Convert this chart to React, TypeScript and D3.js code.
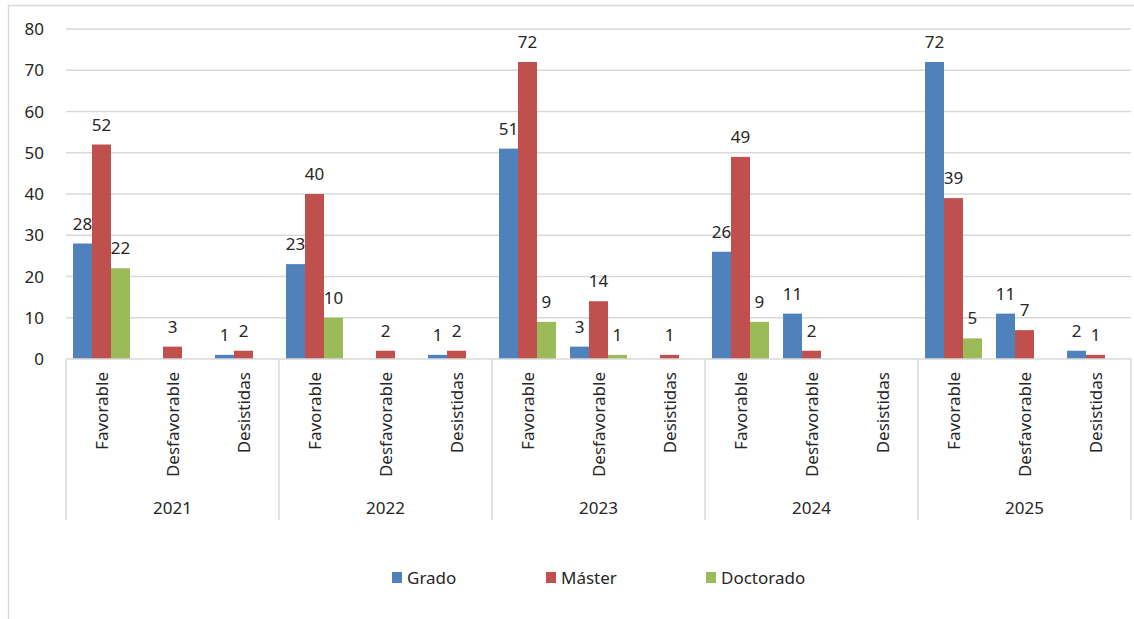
import React from "react";
import * as d3 from "d3";

const years = ["2021", "2022", "2023", "2024", "2025"];
const outcomes = ["Favorable", "Desfavorable", "Desistidas"];
const seriesNames = ["Grado", "Máster", "Doctorado"];
const seriesColors = ["#4f81bd", "#c0504d", "#9bbb59"];

// values per year, in order Favorable, Desfavorable, Desistidas (null = no bar)
const grado = [28, null, 1, 23, null, 1, 51, 3, null, 26, 11, null, 72, 11, 2];
const master = [52, 3, 2, 40, 2, 2, 72, 14, 1, 49, 2, null, 39, 7, 1];
const doctorado = [22, null, null, 10, null, null, 9, 1, null, 9, null, null, 5, null, null];

const yTicks = [0, 10, 20, 30, 40, 50, 60, 70, 80];

const W = 1134;
const H = 619;
const FONT = "'Noto Sans', sans-serif";
const TEXT = "#262626";
const GRID = "#d9d9d9";
const FS = 17;

export default function App() {
  const left = 66;
  const right = 1131;
  const top = 29;
  const bottom = 359;

  const cats = years.flatMap((y) => outcomes.map((o) => `${y}|${o}`));
  const x = d3.scaleBand<string>().domain(cats).range([left, right]).padding(0);
  const xg = d3.scaleBand<string>().domain(years).range([left, right]).padding(0);
  const xs = d3
    .scaleBand<string>()
    .domain(seriesNames)
    .range([0, x.bandwidth()])
    .paddingInner(0)
    .paddingOuter(0.37);
  const y = d3.scaleLinear().domain([0, 80]).range([bottom, top]);

  const allSeries = [grado, master, doctorado];

  return (
    <svg
      width={W}
      height={H}
      style={{ position: "absolute", left: 0, top: 0, background: "#fff" }}
      fontFamily={FONT}
    >
      {/* outer border */}
      <line x1={8.5} x2={8.5} y1={5} y2={H} stroke={GRID} strokeWidth={1.5} />
      <line x1={8} x2={W} y1={5.5} y2={5.5} stroke={GRID} strokeWidth={1.5} />

      {/* gridlines */}
      {yTicks.map((t) => (
        <g key={t}>
          {t > 0 && (
            <line x1={left} x2={right} y1={y(t)} y2={y(t)} stroke={GRID} strokeWidth={1.5} />
          )}
          <text x={44} y={y(t)} dy="0.36em" textAnchor="end" fontSize={FS} fill={TEXT}>
            {t}
          </text>
        </g>
      ))}

      {/* bars */}
      {allSeries.map((vals, si) =>
        vals.map((v, ci) =>
          v == null ? null : (
            <rect
              key={`${si}-${ci}`}
              x={(x(cats[ci]) as number) + (xs(seriesNames[si]) as number)}
              y={y(v)}
              width={xs.bandwidth()}
              height={bottom - y(v)}
              fill={seriesColors[si]}
            />
          )
        )
      )}

      {/* value labels */}
      {allSeries.map((vals, si) =>
        vals.map((v, ci) =>
          v == null ? null : (
            <text
              key={`l${si}-${ci}`}
              x={(x(cats[ci]) as number) + (xs(seriesNames[si]) as number) + xs.bandwidth() / 2}
              y={y(v) - 14}
              textAnchor="middle"
              fontSize={FS}
              fill={TEXT}
            >
              {v}
            </text>
          )
        )
      )}

      {/* x axis line */}
      <line x1={left} x2={right} y1={bottom} y2={bottom} stroke={GRID} strokeWidth={1.5} />

      {/* group separators */}
      {years.map((yr) => (
        <line
          key={yr}
          x1={xg(yr) as number}
          x2={xg(yr) as number}
          y1={bottom}
          y2={520}
          stroke={GRID}
          strokeWidth={1.5}
        />
      ))}
      <line x1={right} x2={right} y1={bottom} y2={520} stroke={GRID} strokeWidth={1.5} />

      {/* category labels */}
      {cats.map((c) => {
        const cx = (x(c) as number) + x.bandwidth() / 2;
        const label = c.split("|")[1];
        return (
          <text
            key={c}
            transform={`translate(${cx},372) rotate(-90)`}
            textAnchor="end"
            dy="0.36em"
            fontSize={FS}
            fill={TEXT}
          >
            {label}
          </text>
        );
      })}

      {/* year labels */}
      {years.map((yr) => (
        <text
          key={`y${yr}`}
          x={(xg(yr) as number) + xg.bandwidth() / 2}
          y={507.5}
          dy="0.36em"
          textAnchor="middle"
          fontSize={FS}
          fill={TEXT}
        >
          {yr}
        </text>
      ))}

      {/* legend */}
      {seriesNames.map((s, i) => {
        const lx = [392, 546, 706][i];
        return (
          <g key={s}>
            <rect x={lx} y={572} width={10} height={11} fill={seriesColors[i]} />
            <text x={lx + 15} y={578} dy="0.36em" fontSize={FS} fill={TEXT}>
              {s}
            </text>
          </g>
        );
      })}
    </svg>
  );
}
